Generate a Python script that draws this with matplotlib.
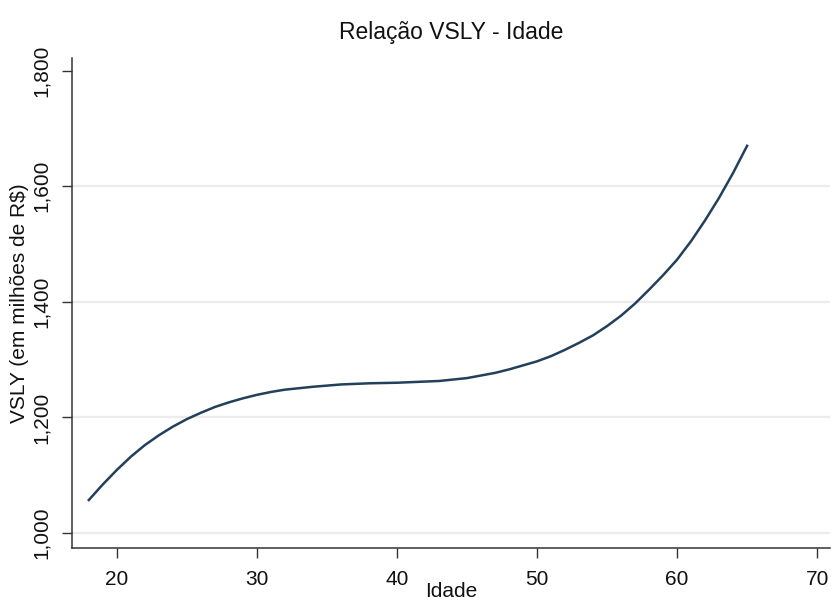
import matplotlib
matplotlib.use("Agg")
import matplotlib.pyplot as plt
from matplotlib.ticker import FuncFormatter

# idade x VSLY (em milhões de R$)
idade = [18, 19, 20, 21, 22, 23, 24, 25, 26, 27, 28, 29, 30, 31, 32, 34, 35, 36,
         38, 40, 43, 45, 47, 48, 49, 50, 51, 52, 53, 54, 55, 56, 57, 58, 59, 60,
         61, 62, 63, 64, 65]
vsly = [1057, 1084, 1109, 1132, 1152, 1169, 1184, 1197, 1208, 1218, 1226, 1233,
        1239, 1244, 1248, 1253, 1255, 1257, 1259, 1260, 1263, 1268, 1277, 1283,
        1290, 1297, 1306, 1317, 1329, 1342, 1358, 1376, 1397, 1421, 1446, 1473,
        1505, 1541, 1580, 1623, 1670]

x_ticks = [20, 30, 40, 50, 60, 70]
y_ticks = [1000, 1200, 1400, 1600, 1800]
y_grid = [1000, 1200, 1400, 1600]

plt.rcParams["font.family"] = ["Liberation Sans", "DejaVu Sans"]

fig = plt.figure(figsize=(8.36, 6.02), dpi=100)
ax = fig.add_axes([0.0861, 0.0897, 0.9069, 0.814])

for g in y_grid:
    ax.axhline(g, color="#ececec", lw=1.6, zorder=0)

ax.plot(idade, vsly, color="#22405b", lw=1.8, zorder=3)

ax.set_xlim(16.8, 70.93)
ax.set_ylim(974, 1822)
ax.set_xticks(x_ticks)
ax.set_yticks(y_ticks)
ax.yaxis.set_major_formatter(FuncFormatter(lambda v, p: f"{int(v):,}"))

for s in ["top", "right"]:
    ax.spines[s].set_visible(False)
for s in ["left", "bottom"]:
    ax.spines[s].set_color("#333333")
    ax.spines[s].set_linewidth(1.1)

ax.tick_params(axis="both", length=7, width=1.0, color="#333333",
               labelsize=15, labelcolor="#111111")
ax.tick_params(axis="x", pad=9)
ax.tick_params(axis="y", pad=8)
for lab in ax.get_yticklabels():
    lab.set_rotation(90)
    lab.set_va("center")

ax.set_xlabel("Idade", fontsize=15, color="#111111", labelpad=-5)
ax.set_ylabel("VSLY (em milhões de R$)", fontsize=15, color="#111111", labelpad=2)
ax.set_title("Relação VSLY - Idade", fontsize=16.5, color="#111111", pad=14)

fig.savefig("out.png", dpi=100)
